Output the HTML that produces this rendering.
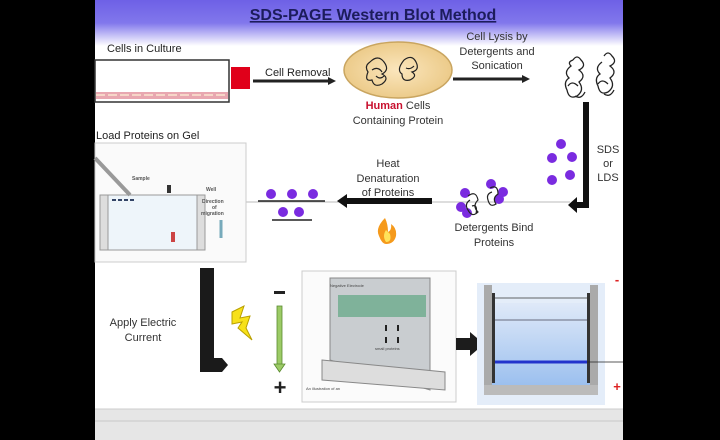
<!DOCTYPE html>
<html><head><meta charset="utf-8"><style>
html,body{margin:0;padding:0;background:#000;}
svg{display:block;font-family:"Liberation Sans",sans-serif;}
</style></head><body>
<svg width="720" height="440" viewBox="0 0 720 440" xmlns="http://www.w3.org/2000/svg">
<defs>
<linearGradient id="tg" x1="0" y1="0" x2="0" y2="1">
<stop offset="0" stop-color="#6e60e6"/><stop offset="0.5" stop-color="#8177ec"/><stop offset="1" stop-color="#ffffff"/>
</linearGradient>
<radialGradient id="el" cx="0.5" cy="0.5" r="0.5"><stop offset="0" stop-color="#fbe6bd"/><stop offset="1" stop-color="#eccb8a"/></radialGradient>
<linearGradient id="tank" x1="0" y1="0" x2="0" y2="1"><stop offset="0" stop-color="#dfe9f8"/><stop offset="1" stop-color="#9cc0ef"/></linearGradient>
</defs>
<rect x="0" y="0" width="720" height="440" fill="#000"/>
<rect x="95" y="0" width="528" height="440" fill="#fff"/>
<rect x="95" y="0" width="528" height="46" fill="url(#tg)"/>
<text x="373" y="20" font-size="16" font-weight="bold" fill="#1c1c5c" text-anchor="middle" text-decoration="underline">SDS-PAGE Western Blot Method</text>

<!-- Row 1 -->
<text x="107" y="52" font-size="11" fill="#222">Cells in Culture</text>
<rect x="95" y="60" width="134" height="42" fill="#fff" stroke="#333" stroke-width="1.5"/>
<rect x="96" y="92" width="132" height="7" fill="#e8a7b0"/>
<line x1="96" y1="95" x2="228" y2="95" stroke="#f6d6c8" stroke-width="2" stroke-dasharray="9,3"/>
<rect x="231" y="67" width="19" height="22" fill="#e0001a"/>
<text x="265" y="76" font-size="11" fill="#222">Cell Removal</text>
<line x1="253" y1="81" x2="330" y2="81" stroke="#222" stroke-width="3"/>
<polygon points="328,77 336,81 328,85" fill="#222"/>
<ellipse cx="398" cy="70" rx="54" ry="28" fill="url(#el)" stroke="#c9a560" stroke-width="1.5"/>
<g fill="none" stroke="#222" stroke-width="1.2">
<path d="M370 62 q8 -8 14 0 q6 8 -2 12 q8 4 0 10 q-8 4 -10 -4 q-8 2 -4 -8 q-4 -6 2 -10 M372 70 q6 -4 10 2 M376 76 q4 4 8 0"/>
<path d="M404 60 q8 -6 12 2 q4 8 -4 10 q6 4 -2 8 q-8 2 -8 -6 q-6 -4 2 -14 M406 68 q4 2 8 -2"/>
</g>
<text x="398" y="109" font-size="11" text-anchor="middle" fill="#333"><tspan fill="#c8102e" font-weight="bold">Human</tspan> Cells</text>
<text x="398" y="124" font-size="11" text-anchor="middle" fill="#333">Containing Protein</text>
<text x="497" y="40" font-size="11" text-anchor="middle" fill="#333">Cell Lysis by</text>
<text x="497" y="55" font-size="11" text-anchor="middle" fill="#333">Detergents and</text>
<text x="497" y="69" font-size="11" text-anchor="middle" fill="#333">Sonication</text>
<line x1="453" y1="79" x2="524" y2="79" stroke="#222" stroke-width="3"/>
<polygon points="522,75 530,79 522,83" fill="#222"/>
<g fill="none" stroke="#222" stroke-width="1.3">
<path d="M573 60 q4 -6 8 0 q6 6 -2 10 q8 6 0 12 q6 8 -2 14 q-8 4 -10 -6 q-4 -8 2 -12 q-6 -6 2 -12 q-4 -4 2 -6 M568 86 q4 -6 10 0 M575 96 q6 4 10 -4"/>
<path d="M604 56 q4 -6 8 0 q6 6 -2 10 q8 6 0 12 q6 8 -2 14 q-8 4 -10 -6 q-4 -8 2 -12 q-6 -6 2 -12 M598 84 q4 -6 10 0 M604 94 q6 4 10 -4"/>
</g>
<rect x="583" y="102" width="6" height="106" fill="#111"/>
<rect x="575" y="202" width="14" height="6" fill="#111"/>
<polygon points="577,197 568,205 577,213" fill="#111"/>
<text x="608" y="153" font-size="11" text-anchor="middle" fill="#333">SDS</text>
<text x="608" y="167" font-size="11" text-anchor="middle" fill="#333">or</text>
<text x="608" y="181" font-size="11" text-anchor="middle" fill="#333">LDS</text>
<g fill="#7a2be0">
<circle cx="561" cy="144" r="5"/><circle cx="552" cy="158" r="5"/><circle cx="572" cy="157" r="5"/><circle cx="552" cy="180" r="5"/><circle cx="570" cy="175" r="5"/>
</g>

<!-- Row 2 -->
<text x="96" y="139" font-size="11" fill="#222">Load Proteins on Gel</text>
<line x1="246" y1="202" x2="570" y2="202" stroke="#bbb" stroke-width="1"/>
<text x="388" y="167" font-size="11" text-anchor="middle" fill="#333">Heat</text>
<text x="388" y="182" font-size="11" text-anchor="middle" fill="#333">Denaturation</text>
<text x="388" y="196" font-size="11" text-anchor="middle" fill="#333">of Proteins</text>
<rect x="345" y="198" width="87" height="6" fill="#111"/>
<polygon points="347,194 337,201 347,208" fill="#111"/>
<g fill="#7a2be0">
<circle cx="271" cy="194" r="5"/><circle cx="292" cy="194" r="5"/><circle cx="313" cy="194" r="5"/><circle cx="283" cy="212" r="5"/><circle cx="299" cy="212" r="5"/>
</g>
<line x1="258" y1="201" x2="325" y2="201" stroke="#222" stroke-width="1.5"/>
<line x1="272" y1="220" x2="312" y2="220" stroke="#222" stroke-width="1.5"/>
<path d="M385 218 q-10 10 -6 18 q3 8 7 8 q8 0 10 -8 q1 -8 -5 -12 q1 6 -3 8 q0 -8 -3 -14z" fill="#f59a1c"/>
<path d="M386 230 q-4 6 0 12 q6 0 4 -8z" fill="#ffe35a"/>
<g fill="#7a2be0">
<circle cx="465" cy="193" r="5"/><circle cx="461" cy="207" r="5"/><circle cx="467" cy="213" r="5"/><circle cx="491" cy="184" r="5"/><circle cx="499" cy="199" r="5"/><circle cx="503" cy="192" r="5"/>
</g>
<g fill="none" stroke="#222" stroke-width="1.2">
<path d="M468 196 q8 -6 10 4 q-6 6 0 12 q-6 6 -10 -2 q-4 -6 2 -10 M472 206 q6 -2 4 8"/>
<path d="M490 188 q8 -4 8 6 q-6 4 -2 10 q-6 4 -8 -4 q-2 -6 4 -8"/>
</g>
<text x="494" y="231" font-size="11" text-anchor="middle" fill="#333">Detergents Bind</text>
<text x="494" y="246" font-size="11" text-anchor="middle" fill="#333">Proteins</text>
<rect x="95" y="143" width="151" height="119" fill="#fafafa" stroke="#ccc"/>
<rect x="100" y="195" width="105" height="55" fill="#eef5fa" stroke="#999"/>
<rect x="100" y="195" width="8" height="55" fill="#ddd" stroke="#999"/>
<rect x="197" y="195" width="8" height="55" fill="#ddd" stroke="#999"/>
<line x1="112" y1="200" x2="135" y2="200" stroke="#346" stroke-width="2" stroke-dasharray="4,2"/>
<line x1="95" y1="158" x2="130" y2="195" stroke="#999" stroke-width="4"/>
<text x="132" y="180" font-size="5" font-weight="bold" fill="#555">Sample</text>
<text x="206" y="191" font-size="5" font-weight="bold" fill="#555">Well</text>
<text x="202" y="203" font-size="5" font-weight="bold" fill="#555">Direction</text>
<text x="212" y="209" font-size="5" font-weight="bold" fill="#555">of</text>
<text x="201" y="215" font-size="5" font-weight="bold" fill="#555">migration</text>
<line x1="221" y1="220" x2="221" y2="238" stroke="#7ab" stroke-width="3"/>
<rect x="171" y="232" width="4" height="10" fill="#c44"/>
<rect x="167" y="185" width="4" height="8" fill="#333"/>

<!-- Row 3 -->
<text x="143" y="326" font-size="11" text-anchor="middle" fill="#333">Apply Electric</text>
<text x="143" y="341" font-size="11" text-anchor="middle" fill="#333">Current</text>
<rect x="200" y="268" width="14" height="104" fill="#1a1a1a"/>
<polygon points="200,358 222,358 228,365 222,372 200,372" fill="#1a1a1a"/>
<polygon points="232,312 244,306 240,318 250,316 246,328 252,340 238,328 242,322 232,324" fill="#f7e11a" stroke="#b9a000" stroke-width="1"/>
<rect x="274" y="291" width="11" height="3" fill="#222"/>
<rect x="277" y="306" width="5" height="60" fill="#9ccb66" stroke="#5a8a30" stroke-width="0.8"/>
<polygon points="274,364 285,364 279.5,372" fill="#9ccb66" stroke="#5a8a30" stroke-width="0.8"/>
<text x="280" y="395" font-size="22" font-weight="bold" text-anchor="middle" fill="#222">+</text>
<rect x="302" y="271" width="154" height="131" fill="#fbfbfb" stroke="#ccc"/>
<polygon points="330,278 430,278 430,390 330,360" fill="#c9cdd0" stroke="#888"/>
<rect x="338" y="295" width="88" height="22" fill="#7fb29a"/>
<polygon points="322,360 445,372 445,390 322,380" fill="#ddd" stroke="#888"/>
<text x="330" y="287" font-size="4" fill="#444">Negative Electrode</text>
<text x="375" y="350" font-size="4" fill="#444">small proteins</text>
<text x="306" y="390" font-size="4" fill="#444">An illustration of an</text>
<g fill="#222"><rect x="385" y="325" width="2" height="6"/><rect x="397" y="325" width="2" height="6"/><rect x="385" y="337" width="2" height="6"/><rect x="397" y="337" width="2" height="6"/></g>
<rect x="456" y="338" width="16" height="12" fill="#1c1c1c"/>
<polygon points="470,332 484,344 470,356" fill="#1c1c1c"/>
<rect x="477" y="283" width="128" height="122" fill="#e4edf9"/>
<rect x="484" y="285" width="8" height="108" fill="#aaa"/>
<rect x="590" y="285" width="8" height="108" fill="#aaa"/>
<rect x="484" y="385" width="114" height="10" fill="#bbb"/>
<rect x="492" y="303" width="98" height="82" fill="url(#tank)"/>
<rect x="492" y="293" width="3" height="90" fill="#333"/>
<rect x="587" y="293" width="3" height="90" fill="#333"/>
<line x1="495" y1="298" x2="587" y2="298" stroke="#333" stroke-width="0.8"/>
<line x1="495" y1="320" x2="587" y2="320" stroke="#445" stroke-width="0.8"/>
<line x1="495" y1="362" x2="587" y2="362" stroke="#2233cc" stroke-width="3"/>
<line x1="587" y1="362" x2="623" y2="362" stroke="#222" stroke-width="0.8"/>
<text x="617" y="284" font-size="13" font-weight="bold" text-anchor="middle" fill="#d22">-</text>
<text x="617" y="391" font-size="13" font-weight="bold" text-anchor="middle" fill="#d22">+</text>
<rect x="95" y="409" width="528" height="31" fill="#e6e6e6"/>
<line x1="95" y1="409" x2="623" y2="409" stroke="#ccc"/>
<line x1="95" y1="421" x2="623" y2="421" stroke="#c8c8c8"/>
</svg>
</body></html>
